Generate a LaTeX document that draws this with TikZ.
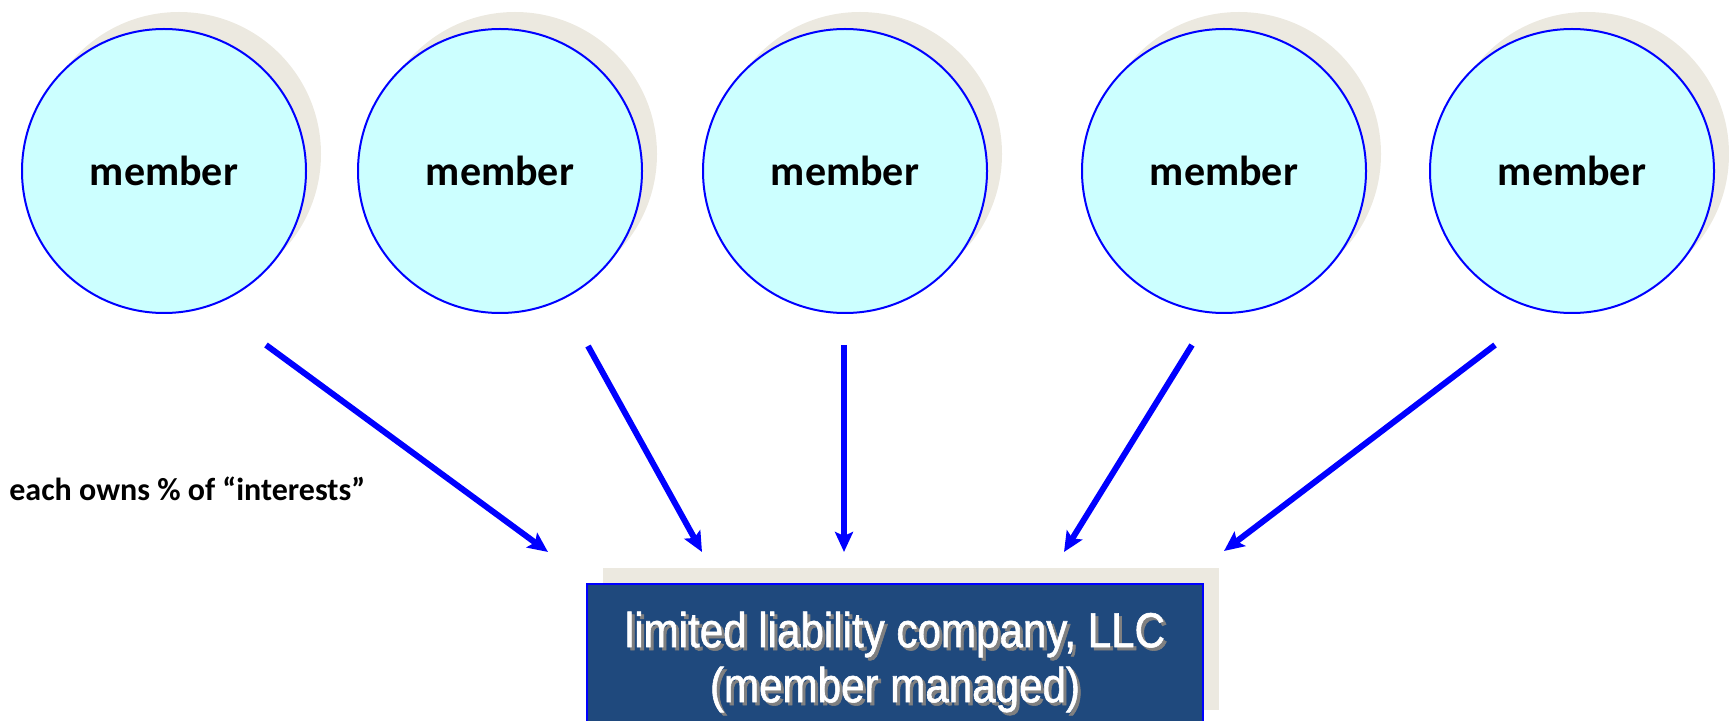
\documentclass[tikz,border=0pt]{standalone}
\usepackage{fontspec}
\setmainfont{Carlito}
\newfontfamily\boxfont[FakeStretch=0.86, FakeBold=1.2]{Liberation Sans}
\usetikzlibrary{arrows.meta}
\usetikzlibrary{shadows}

\definecolor{shadegray}{RGB}{236,233,224}
\definecolor{memberfill}{RGB}{204,255,255}
\definecolor{llcfill}{RGB}{31,73,125}

\begin{document}
\begin{tikzpicture}[x=0.5pt, y=-0.5pt,
    member/.style={circle, draw=blue, line width=1pt, fill=memberfill, minimum size=142pt, inner sep=0pt,
        font=\fontsize{21}{25}\selectfont\bfseries,
        drop shadow={shadow xshift=7.5pt, shadow yshift=8.5pt, fill=shadegray, opacity=1}},
    owns/.style={line width=3pt, blue, -{Stealth[length=10pt, width=9pt, inset=2pt]}},
    llcbox/.style={draw=blue, line width=1pt, fill=llcfill, minimum width=308pt, minimum height=71pt,
        drop shadow={shadow xshift=8pt, shadow yshift=8pt, fill=shadegray, opacity=1}},
    llcfont/.style={align=center, font=\boxfont\fontsize{24.5}{27.5}\selectfont}]
    \useasboundingbox (0,0) rectangle (1729,721);

    % members
    \node[member] (m1) at (164,171) {member};
    \node[member] (m2) at (500,171) {member};
    \node[member] (m3) at (845,171) {member};
    \node[member] (m4) at (1224,171) {member};
    \node[member] (m5) at (1572,171) {member};

    % the company
    \node[llcbox] (llc) at (895,655) {};
    \node[llcfont, text=gray] (llcshade) at ([xshift=1.5pt, yshift=-5pt]llc.center) {limited liability company, LLC\\(member managed)};
    \node[llcfont, text=white] (llctext) at ([yshift=-3.5pt]llc.center) {limited liability company, LLC\\(member managed)};

    \node[anchor=west, inner sep=0pt, font=\fontsize{16}{19}\selectfont\bfseries] (interests) at (9,489) {each owns \% of “interests”};

    % arrow ends
    \coordinate (s1) at (266,345); \coordinate (t1) at (548,552);
    \coordinate (s2) at (588,346); \coordinate (t2) at (702,552);
    \coordinate (s3) at (844,345); \coordinate (t3) at (844,552);
    \coordinate (s4) at (1192,345); \coordinate (t4) at (1064,552);
    \coordinate (s5) at (1495,345); \coordinate (t5) at (1224,551);
    \foreach \i in {1,...,5}
        \draw[owns] (s\i) -- (t\i);
\end{tikzpicture}
\end{document}
